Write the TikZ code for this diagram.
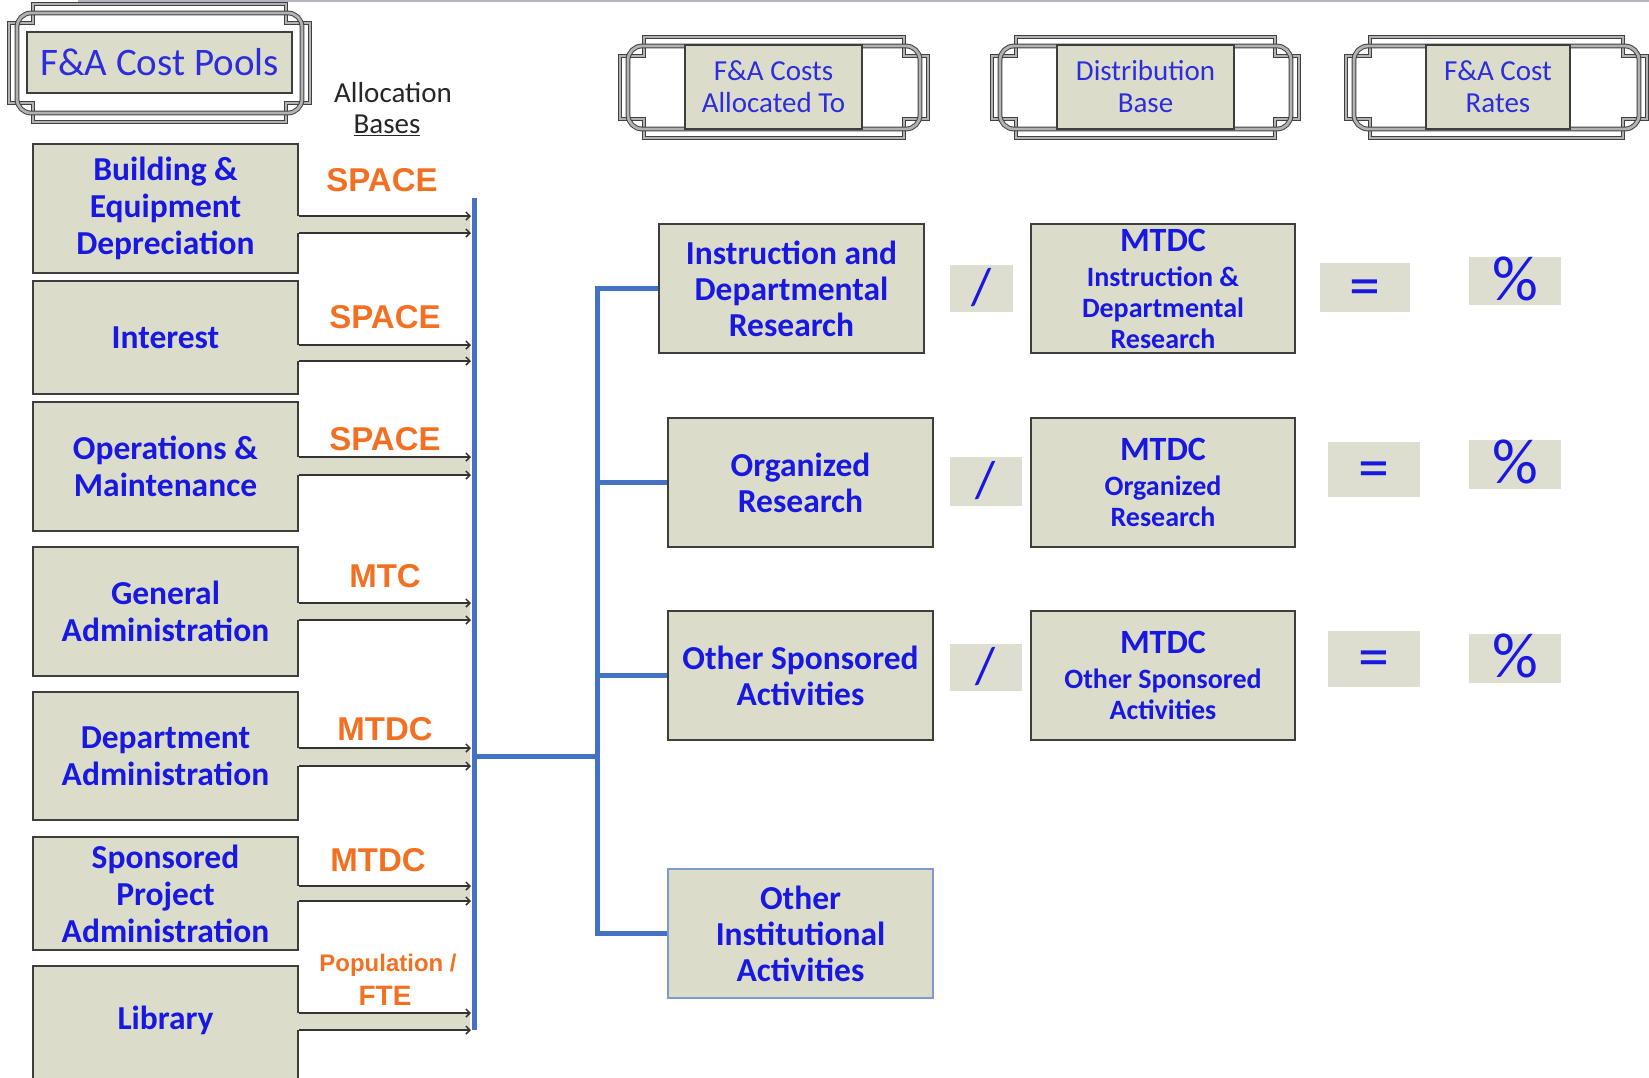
\documentclass[tikz,border=0pt]{standalone}
\usepackage{fontspec}
\setmainfont{Carlito}
\newfontfamily\arialfont{Liberation Sans}
\usetikzlibrary{arrows.meta,calc}

\definecolor{boxfill}{RGB}{219,221,202}
\definecolor{opfill}{RGB}{221,222,208}
\definecolor{boxborder}{RGB}{62,62,62}
\definecolor{txtblue}{RGB}{24,24,225}
\definecolor{headblue}{RGB}{45,45,220}
\definecolor{basisorange}{RGB}{242,112,34}
\definecolor{feedblue}{RGB}{68,114,196}
\definecolor{softblue}{RGB}{125,155,205}
\definecolor{rulegray}{RGB}{180,180,194}

% ornamental frame behind a heading: notched outline plus rounded inner outline
\newcommand\fancyframe[4]{%
  \draw[frameline] (#1+24,#2) -- (#3-24,#2) -- (#3-24,#2+19) -- (#3,#2+19)
     -- (#3,#4-19) -- (#3-24,#4-19) -- (#3-24,#4) -- (#1+24,#4)
     -- (#1+24,#4-19) -- (#1,#4-19) -- (#1,#2+19) -- (#1+24,#2+19) -- cycle;
  \draw[frameline, rounded corners=14pt] (#1+8,#2+9) rectangle (#3-8,#4-9);
}

% block arrow from a cost pool box to the collecting bar
\newcommand\poolarrow[3]{%
  \fill[boxfill] ($(#1.east |- 0,#2)+(-2,0)$) rectangle ($(bartop |- 0,#3)+(-4,0)$);
  \draw[arrline] (#1.east |- 0,#2) -- ($(bartop |- 0,#2)+(-3,0)$);
  \draw[arrline] (#1.east |- 0,#3) -- ($(bartop |- 0,#3)+(-3,0)$);
}

% operator glyph centred in its tile
\newcommand\opglyph[1]{\raisebox{-0.3em}[0pt][0pt]{#1}}

\begin{document}
\begin{tikzpicture}[x=1pt,y=-1pt,
  boxbase/.style={fill=boxfill, draw=boxborder, line width=2pt, inner sep=0pt,
    align=center, text=txtblue},
  poolbox/.style={boxbase, minimum width=265pt,
    font=\bfseries\fontsize{33.5}{37}\selectfont},
  targetbox/.style={boxbase, minimum width=265pt, minimum height=129pt,
    font=\bfseries\fontsize{33.5}{36}\selectfont},
  basebox/.style={boxbase, minimum width=264pt, minimum height=129pt,
    font=\bfseries\fontsize{28}{31}\selectfont},
  opbox/.style={fill=opfill, inner sep=0pt, text=txtblue},
  slashop/.style={opbox, font=\fontsize{52}{52}\selectfont},
  eqop/.style={opbox, font=\fontsize{62}{62}\selectfont},
  pctop/.style={opbox, font=\fontsize{64}{64}\selectfont},
  headbox/.style={boxbase, font=\fontsize{29}{32}\selectfont, text=headblue},
  basis/.style={text=basisorange, font=\arialfont\bfseries\fontsize{33}{36}\selectfont,
    inner sep=0pt, align=center},
  feed/.style={draw=feedblue, line width=5pt},
  arrline/.style={draw=black!80, line width=1.5pt,
    -{Straight Barb[length=4pt,width=8pt]}},
  frameline/.style={draw=black!75, line width=1pt, double=gray!60,
    double distance=2.8pt},
  plain/.style={font=\fontsize{29}{32}\selectfont, text=black!85, inner sep=0pt},
]
\useasboundingbox (0,0) rectangle (1649,1077);
\clip (0,0) rectangle (1649,1077);

% thin rule along the top edge
\draw[rulegray, line width=2pt] (78,1) -- (1649,1);

% headings
\fancyframe{9}{4}{310}{122}
\node[headbox, minimum width=265pt, minimum height=61pt,
  font=\fontsize{39}{42}\selectfont] (hpools) at (159.5,62.5) {F\&A Cost Pools};
\fancyframe{620}{37}{928}{138}
\node[headbox, minimum width=177pt, minimum height=84pt] (halloc) at (773.5,87)
  {F\&A Costs\\Allocated To};
\fancyframe{992}{37}{1299}{138}
\node[headbox, minimum width=177pt, minimum height=84pt] (hbase) at (1145.5,87)
  {Distribution\\Base};
\fancyframe{1346}{37}{1647}{138}
\node[headbox, minimum width=144pt, minimum height=84pt] (hrate) at (1498,87)
  {F\&A Cost\\Rates};

\node[plain] (alloc) at (393,93) {Allocation};
\node[plain] (bases) at (387,125) {\underline{Bases}};

% collecting bar and distribution trunk
\coordinate (bartop) at (474,198);
\coordinate (barbot) at (474,1030);
\coordinate (hub) at (474,756);
\coordinate (trunk) at (597,756);

% cost pools
\node[poolbox, minimum height=129pt] (dep) at (165.5,208.5) {Building \&\\Equipment\\Depreciation};
\node[poolbox, minimum height=113pt] (int) at (165.5,337.5) {Interest};
\node[poolbox, minimum height=129pt] (om) at (165.5,466.5) {Operations \&\\Maintenance};
\node[poolbox, minimum height=129pt] (ga) at (165.5,611.5) {General\\Administration};
\node[poolbox, minimum height=128pt] (da) at (165.5,756) {Department\\Administration};
\node[poolbox, minimum height=113pt] (spa) at (165.5,893.5) {Sponsored\\Project\\Administration};
\node[poolbox, minimum height=130pt] (lib) at (165.5,1031) {\raisebox{2pt}[0pt][0pt]{Library}};

\poolarrow{dep}{216}{233}
\poolarrow{int}{345}{361}
\poolarrow{om}{457}{475}
\poolarrow{ga}{603}{620}
\poolarrow{da}{748}{766}
\poolarrow{spa}{886}{901}
\poolarrow{lib}{1013}{1030}

% allocation bases
\node[basis] (bspace1) at (382,180) {SPACE};
\node[basis] (bspace2) at (385,317) {SPACE};
\node[basis] (bspace3) at (385,439) {SPACE};
\node[basis] (bmtc) at (385,576) {MTC};
\node[basis] (bmtdc1) at (385,729) {MTDC};
\node[basis] (bmtdc2) at (378,860) {MTDC};
\node[basis, font=\arialfont\bfseries\fontsize{24}{26}\selectfont] (bpop) at (388,965) {Population /};
\node[basis, font=\arialfont\bfseries\fontsize{28}{30}\selectfont] (bfte) at (385,996) {FTE};

% activities receiving the costs
\node[targetbox] (ra) at (791.5,288.5) {Instruction and\\Departmental\\Research};
\node[targetbox] (rb) at (800.5,482.5) {Organized\\Research};
\node[targetbox] (rc) at (800.5,675.5) {Other Sponsored\\Activities};
\node[targetbox, draw=softblue, line width=1.5pt] (rd) at (800.5,933.5) {Other\\Institutional\\Activities};

% distribution bases
\node[basebox] (ma) at (1163,288.5) {{\fontsize{34}{31}\selectfont MTDC}\\[4pt]Instruction \&\\Departmental\\Research};
\node[basebox] (mb) at (1163,482.5) {{\fontsize{34}{31}\selectfont MTDC}\\[4pt]Organized\\Research};
\node[basebox] (mc) at (1163,675.5) {{\fontsize{34}{31}\selectfont MTDC}\\[4pt]Other Sponsored\\Activities};

% operators
\node[slashop, minimum width=63pt, minimum height=47pt] (sa) at (981.5,288.5) {\opglyph{/}};
\node[slashop, minimum width=72pt, minimum height=49pt] (sb) at (986,481.5) {\opglyph{/}};
\node[slashop, minimum width=72pt, minimum height=47pt] (sc) at (986,667.5) {\opglyph{/}};
\node[eqop, minimum width=90pt, minimum height=49pt] (ea) at (1365,287.5) {\opglyph{=}};
\node[eqop, minimum width=92pt, minimum height=55pt] (eb) at (1374,469.5) {\opglyph{=}};
\node[eqop, minimum width=92pt, minimum height=56pt] (ec) at (1374,659) {\opglyph{=}};
\node[pctop, minimum width=92pt, minimum height=48pt] (pa) at (1515,281) {\opglyph{\%}};
\node[pctop, minimum width=92pt, minimum height=49pt] (pb) at (1515,464.5) {\opglyph{\%}};
\node[pctop, minimum width=92pt, minimum height=49pt] (pc) at (1515,658.5) {\opglyph{\%}};

% blue connectors
\draw[feed] (bartop) -- (barbot);
\draw[feed] (hub) -- (trunk);
\draw[feed] (ra.west) -- (trunk |- ra.west) -- (trunk |- rd.west) -- (rd.west);
\draw[feed] (trunk |- rb.west) -- (rb.west);
\draw[feed] (trunk |- rc.west) -- (rc.west);
\end{tikzpicture}
\end{document}
